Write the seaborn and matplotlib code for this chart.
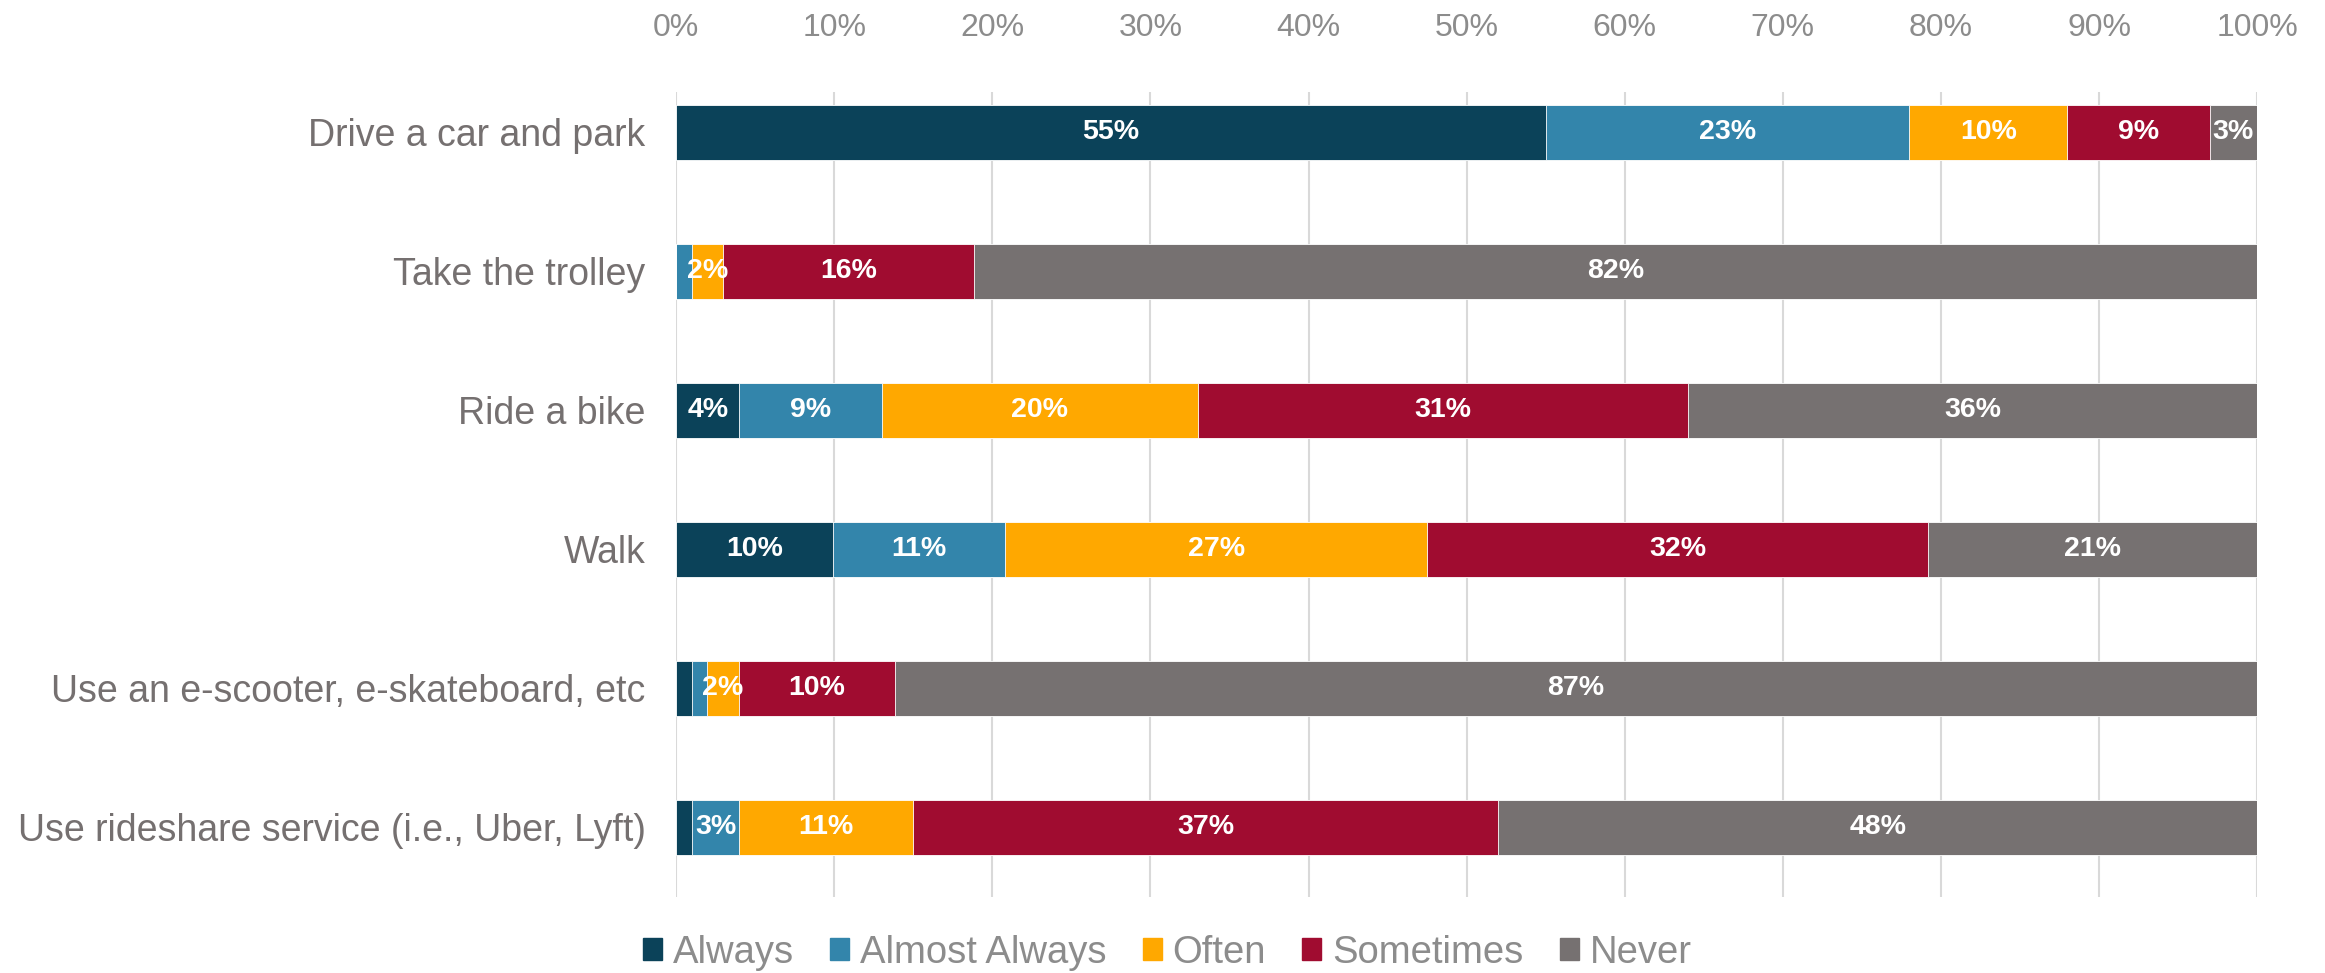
import numpy as np
import pandas as pd
import matplotlib
matplotlib.use("Agg")
import matplotlib.pyplot as plt
import seaborn as sns

# data (% of respondents)
activities = ["Drive a car and park", "Take the trolley", "Ride a bike", "Walk",
              "Use an e-scooter, e-skateboard, etc",
              "Use rideshare service (i.e., Uber, Lyft)"]
responses = ["Always", "Almost Always", "Often", "Sometimes", "Never"]
always        = [55, 0, 4, 10, 1, 1]
almost_always = [23, 1, 9, 11, 1, 3]
often         = [10, 2, 20, 27, 2, 11]
sometimes     = [9, 16, 31, 32, 10, 37]
never         = [3, 82, 36, 21, 87, 48]
x_ticks = [0, 10, 20, 30, 40, 50, 60, 70, 80, 90, 100]

COLORS = ["#0B4259", "#3385AB", "#FFA800", "#A00C30", "#767171"]

sns.set_theme(style="white")
plt.rcParams["font.family"] = ["Liberation Sans", "DejaVu Sans"]

df = pd.DataFrame({"activity": activities, "Always": always,
                   "Almost Always": almost_always, "Often": often,
                   "Sometimes": sometimes, "Never": never})
cum = df[responses].cumsum(axis=1)
# normalise the right end to 100 (rounded values don't always add up)
cum = cum.div(cum["Never"], axis=0) * 100

fig = plt.figure(figsize=(23.25, 9.73), dpi=100)
ax = fig.add_axes([0.2908, 0.0781, 0.6800, 0.8273])

# stacked bars: draw cumulative totals from the right end back to the left
for resp, col in reversed(list(zip(responses, COLORS))):
    sns.barplot(x=cum[resp], y=df["activity"], orient="h", color=col,
                width=0.4, saturation=1, ax=ax, edgecolor="white", linewidth=0.6)

# segment labels
for i, row in df.iterrows():
    left = 0
    for resp in responses:
        right = cum.loc[i, resp]
        v = row[resp]
        if v >= 2:
            ax.text((left + right) / 2, i, f"{v}%", ha="center", va="center",
                    color="white", fontsize=20.5, fontweight="bold")
        left = right

ax.set_xlim(0, 100)
ax.set_ylim(5.5, -0.29)
ax.set_xticks(x_ticks)
ax.set_xticklabels([f"{t}%" for t in x_ticks])
ax.xaxis.tick_top()
ax.tick_params(axis="x", length=0, labelsize=23, labelcolor="#8C8C8C", pad=35)
ax.tick_params(axis="y", length=0, labelsize=27, labelcolor="#757070", pad=22)
ax.set_xlabel(""); ax.set_ylabel("")
ax.grid(axis="x", color="#D9D9D9", lw=1.5)
ax.set_axisbelow(True)
for s in ax.spines.values():
    s.set_visible(False)

handles = [plt.Rectangle((0, 0), 1, 1, color=c) for c in COLORS]
fig.legend(handles, responses, loc="center", bbox_to_anchor=(0.502, 0.021), ncol=5,
           frameon=False, fontsize=27.5, labelcolor="#8C8C8C", handlelength=0.5,
           handleheight=0.5, handletextpad=0.28, columnspacing=0.95)

fig.savefig("out.png", dpi=100)
